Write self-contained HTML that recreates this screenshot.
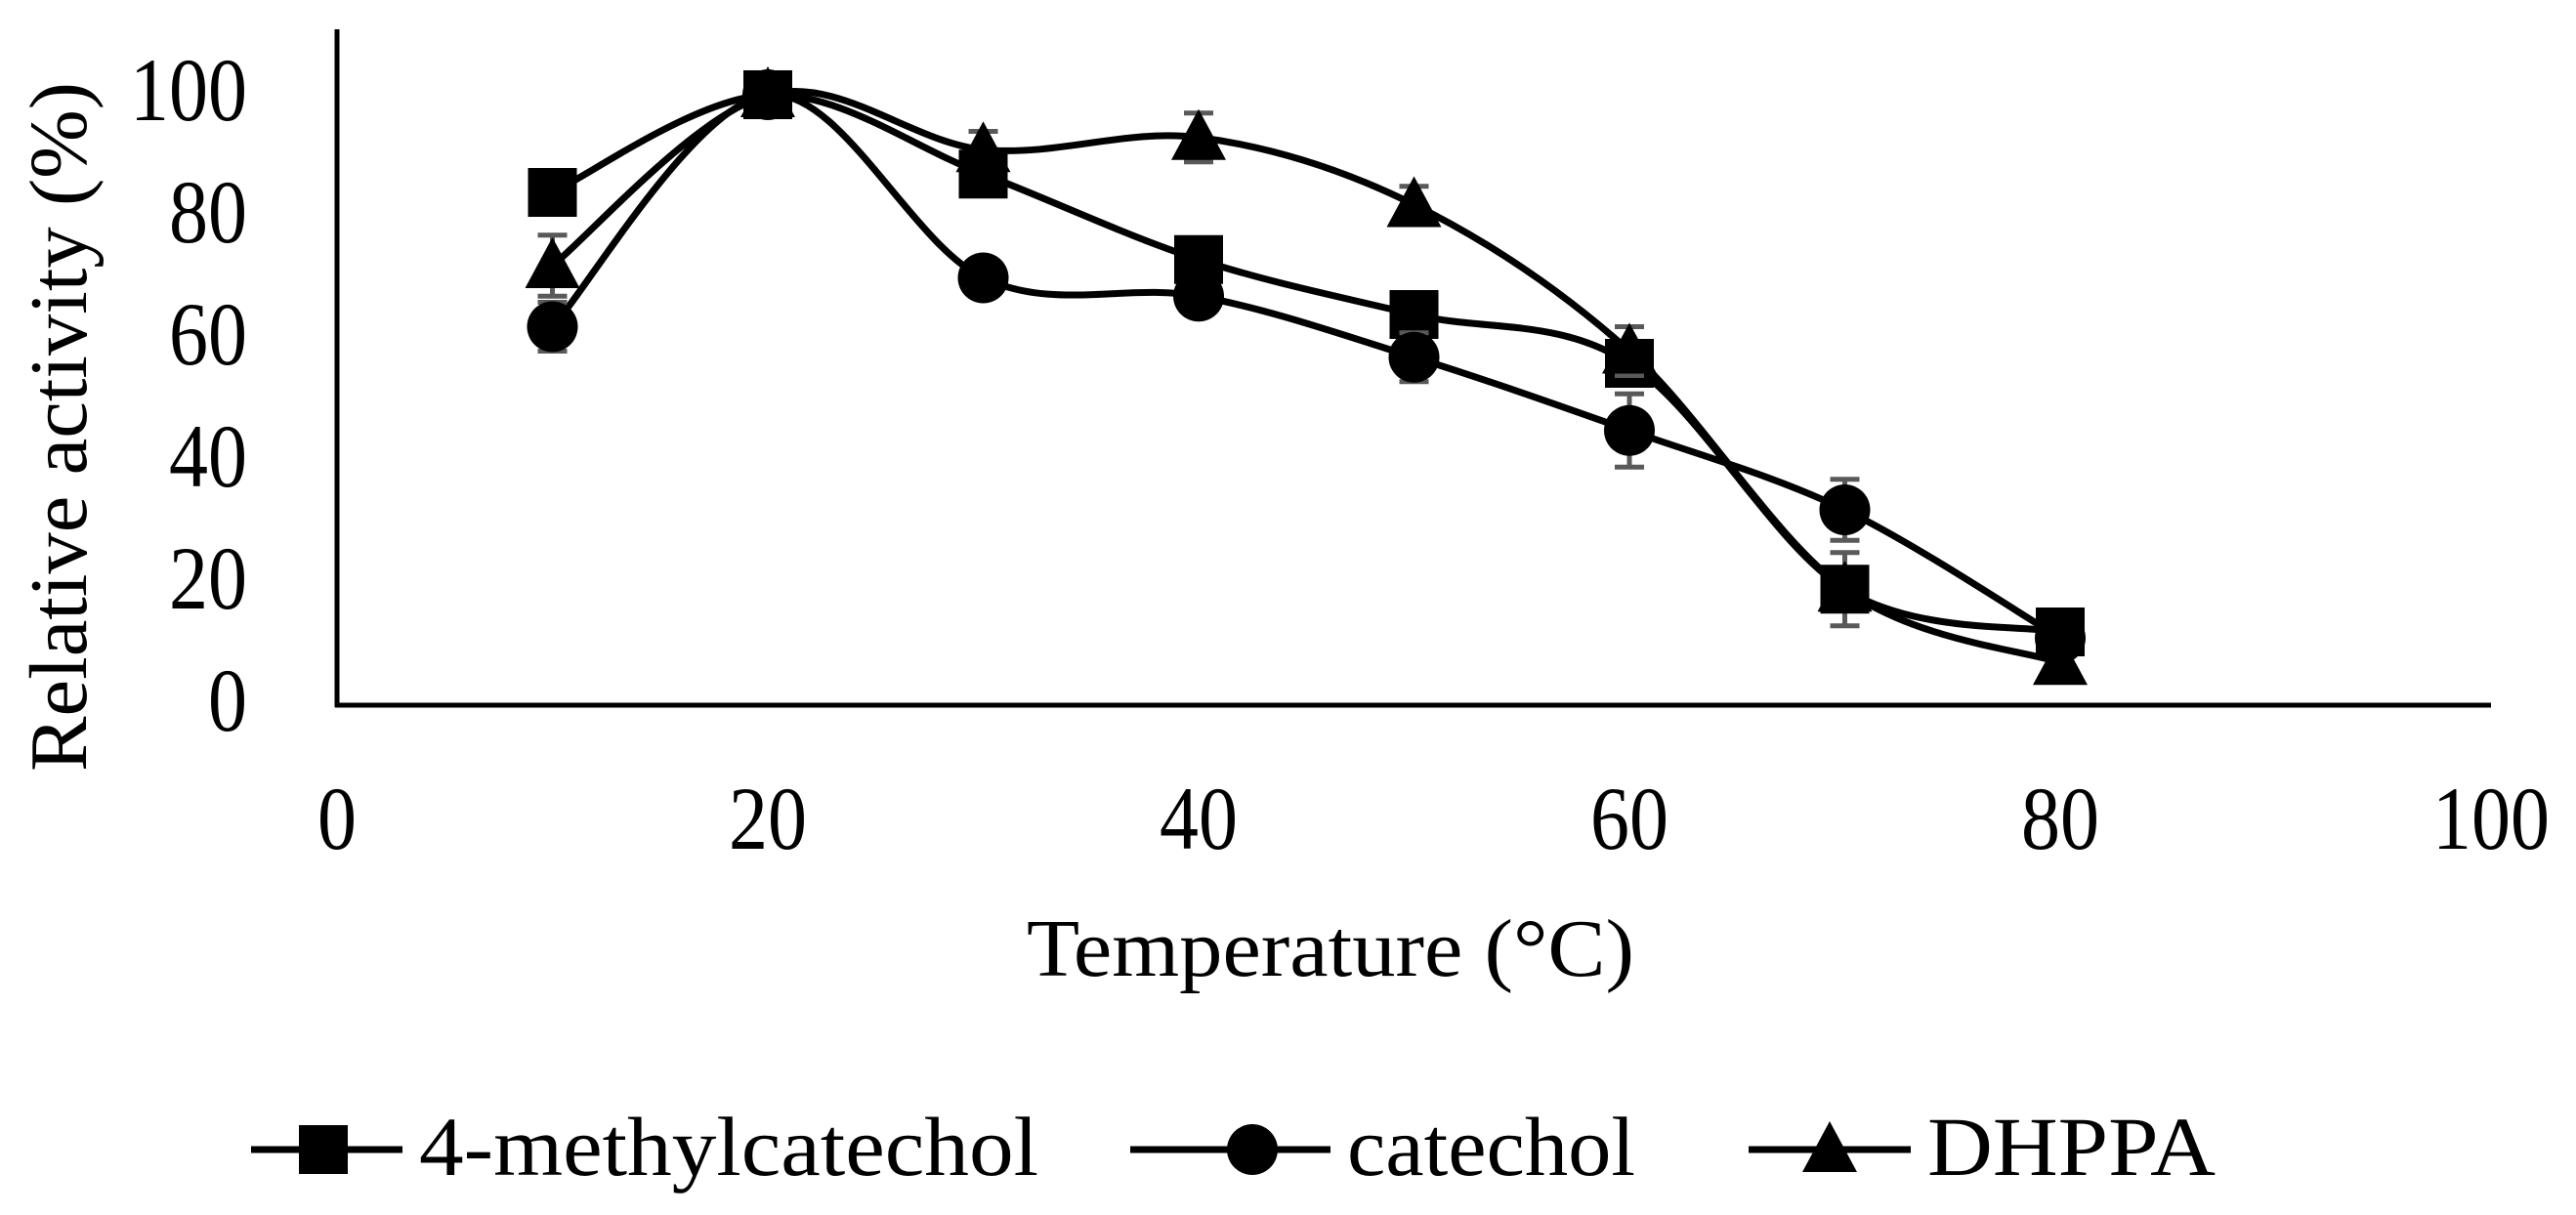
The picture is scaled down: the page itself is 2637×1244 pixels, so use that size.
<!DOCTYPE html>
<html><head><meta charset="utf-8"><style>
html,body{margin:0;padding:0;background:#fff;}
svg{display:block;font-family:"Liberation Serif",serif;}
</style></head><body>
<svg id="chart" width="2637" height="1244" viewBox="0 0 2637 1244" xmlns="http://www.w3.org/2000/svg">
<rect width="2637" height="1244" fill="#fff"/>
<g id="grid"></g>
<g id="series"></g>
<g id="legend"></g>
</svg>
<script>
const xTicks=[0,20,40,60,80,100];
const yTicks=[0,20,40,60,80,100];
const temps=[10,20,30,40,50,60,70,80];
const mcVals=[84,100,87,73,64,56,19,12];
const catVals=[62,100,70,67,57,45,32,11];
const dhVals=[72,100,91,93,82,58,19,7];
const mcErr=[0,0,2,2,3,3,6,0];
const catErr=[4,0,3,2,4,6,5,0];
const dhErr=[5,0,3,4,3,4,0,0];
const seriesNames=["4-methylcatechol","catechol","DHPPA"];

const NS="http://www.w3.org/2000/svg";
const X0=345,XS=22.05,Y0=722,YS=6.25;
function xs(v){return X0+v*XS;}
function ys(v){return Y0-v*YS;}
function mk(tag,attrs,parent){const e=document.createElementNS(NS,tag);for(const k in attrs)e.setAttribute(k,attrs[k]);parent.appendChild(e);return e;}
const grid=document.getElementById('grid');
const ser=document.getElementById('series');
const leg=document.getElementById('legend');

let ax=mk('line',{x1:X0,y1:30,x2:X0,y2:Y0+2,stroke:'#000','stroke-width':5},grid);


ax=mk('line',{x1:X0-2,y1:Y0,x2:xs(100),y2:Y0,stroke:'#000','stroke-width':5},grid);



yTicks.forEach(v=>{const t=mk('text',{x:0,y:0,'font-size':80,'text-anchor':'end',transform:'translate(253,'+(ys(v)+26)+') scale(1,1.15)'},grid);t.textContent=v;

});
xTicks.forEach(v=>{const t=mk('text',{x:0,y:0,'font-size':80,'text-anchor':'middle',transform:'translate('+xs(v)+',869) scale(1,1.15)'},grid);t.textContent=v;

});

let t=mk('text',{x:0,y:0,'font-size':84,'text-anchor':'middle',textLength:706,lengthAdjust:'spacingAndGlyphs',transform:'translate(88,437) rotate(-90)'},grid);
t.textContent='Relative activity (%)';


t=mk('text',{x:1362,y:999,'font-size':84,'text-anchor':'middle',textLength:622,lengthAdjust:'spacingAndGlyphs'},grid);
t.textContent='Temperature (°C)';



function smoothPath(pts){
  let d='M'+pts[0][0]+','+pts[0][1];
  for(let i=0;i<pts.length-1;i++){
    const p0=pts[Math.max(0,i-1)],p1=pts[i],p2=pts[i+1],p3=pts[Math.min(pts.length-1,i+2)];
    const c1=[p1[0]+(p2[0]-p0[0])/6,p1[1]+(p2[1]-p0[1])/6];
    const c2=[p2[0]-(p3[0]-p1[0])/6,p2[1]-(p3[1]-p1[1])/6];
    d+=' C'+c1[0]+','+c1[1]+' '+c2[0]+','+c2[1]+' '+p2[0]+','+p2[1];
  }
  return d;
}
function marker(type,cx,cy,parent){
  let m;
  if(type==='square') m=mk('rect',{x:cx-25,y:cy-25,width:50,height:50,fill:'#000'},parent);
  else if(type==='circle') m=mk('circle',{cx:cx,cy:cy,r:26,fill:'#000'},parent);
  else m=mk('polygon',{points:(cx)+','+(cy-29)+' '+(cx-28)+','+(cy+23)+' '+(cx+28)+','+(cy+23),fill:'#000'},parent);
  return m;
}
const defs=[[mcVals,mcErr,'square','mc'],[catVals,catErr,'circle','catechol'],[dhVals,dhErr,'triangle','dhppa']];
defs.forEach(([vals,errs,type,key])=>{
  const g=mk('g',{},ser);
  
  
  const pts=temps.map((x,i)=>[xs(x),ys(vals[i])]);
  const p=mk('path',{d:smoothPath(pts),fill:'none',stroke:'#000','stroke-width':7},g);
  
  
  temps.forEach((x,i)=>{
    if(errs[i]>0){
      const cx=xs(x),a=ys(vals[i]+errs[i]),b=ys(vals[i]-errs[i]);
      const e=mk('path',{d:'M'+cx+','+a+' L'+cx+','+b+' M'+(cx-15)+','+a+' L'+(cx+15)+','+a+' M'+(cx-15)+','+b+' L'+(cx+15)+','+b,stroke:'#595959','stroke-width':5,fill:'none'},g);
      
      
    }
  });
  temps.forEach((x,i)=>{
    const m=marker(type,xs(x),ys(vals[i]),g);
    
    
  });
});

const legItems=[[257,412,331,429,'square',634],[1157,1362,1282,1379,'circle',295],[1790,1956,1873,1973,'triangle',295]];
legItems.forEach((it,i)=>{
  const g=mk('g',{},leg);
  
  
  mk('line',{x1:it[0],y1:1177,x2:it[1],y2:1177,stroke:'#000','stroke-width':7},g);
  marker(it[4],it[2],1177,g);
  const tx=mk('text',{x:it[3],y:1203,'font-size':86,textLength:it[5],lengthAdjust:'spacingAndGlyphs'},g);
  tx.textContent=seriesNames[i];
});
</script>
</body></html>
